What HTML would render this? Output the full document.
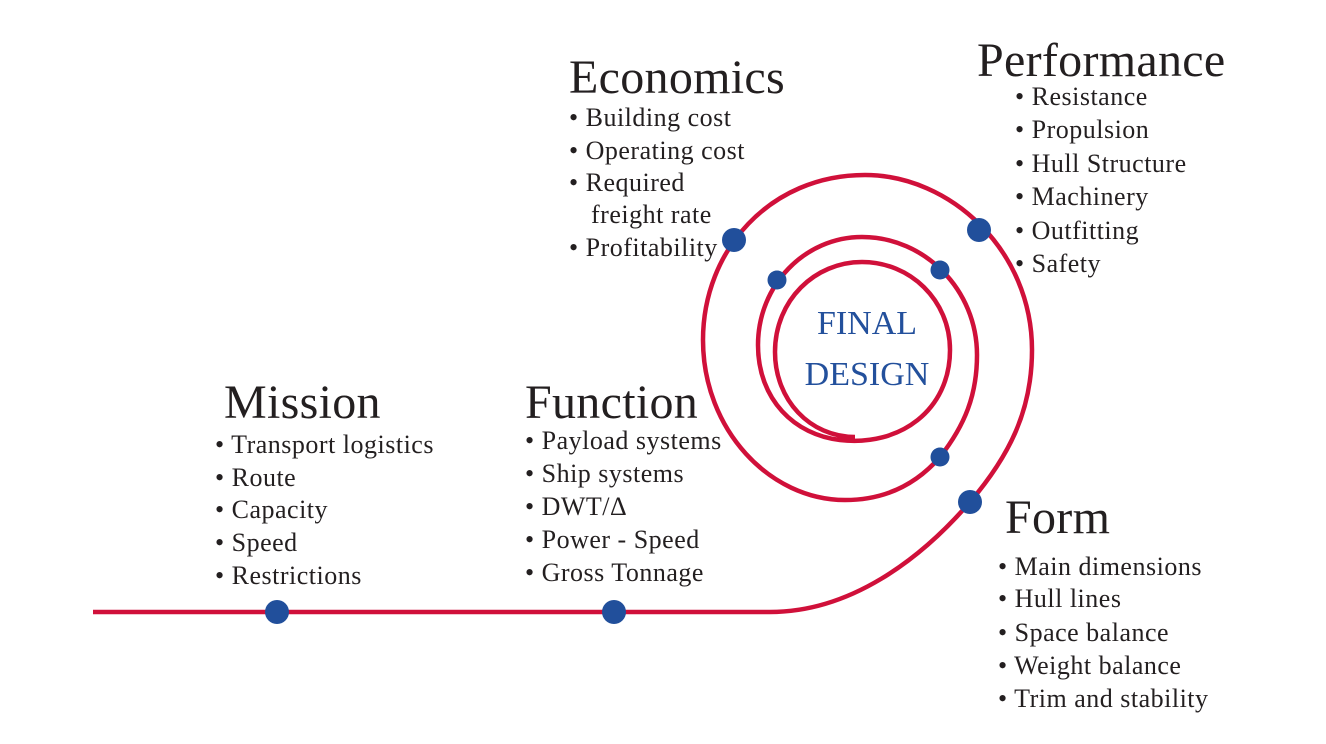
<!DOCTYPE html>
<html><head><meta charset="utf-8"><style>
html,body{margin:0;padding:0;background:#fff;}
svg{display:block;}
text{font-family:"Liberation Serif",serif;fill:#231f20;}
.t{font-size:48px;letter-spacing:0.3px;}
.b{font-size:26px;letter-spacing:0.5px;}
.f{font-size:34px;fill:#23509c;}
</style></head><body>
<svg width="1326" height="744" viewBox="0 0 1326 744" xmlns="http://www.w3.org/2000/svg">
<path d="M93 612 L770 612 C850 612,920 560,970 502 C1010 455,1032 410,1032 350 C1032 250,950 175,865 175 C770 175,703 250,703 340 C703 430,770 500,845 500 C890 500,920 480,940 457 C965 425,977 395,977 355 C977 290,925 237,862 237 C805 237,758 285,758 345 C758 400,795 435,840 440 C900 447,950 410,950 350 C950 300,910 262,862 262 C815 262,775 300,775 352 C775 400,810 437,855 437" fill="none" stroke="#d0103a" stroke-width="4.5"/>
<g fill="#214f9b">
<circle cx="277" cy="612" r="12"/><circle cx="614" cy="612" r="12"/>
<circle cx="734" cy="240" r="12"/><circle cx="979" cy="230" r="12"/>
<circle cx="970" cy="502" r="12"/><circle cx="777" cy="280" r="9.5"/>
<circle cx="940" cy="270" r="9.5"/><circle cx="940" cy="457" r="9.5"/>
</g>
<text class="f" x="867" y="334" text-anchor="middle">FINAL</text>
<text class="f" x="867" y="385" text-anchor="middle">DESIGN</text>

<text class="t" x="569" y="93">Economics</text>
<text class="b" x="569" y="126">• Building cost</text>
<text class="b" x="569" y="159">• Operating cost</text>
<text class="b" x="569" y="191">• Required</text>
<text class="b" x="591" y="223">freight rate</text>
<text class="b" x="569" y="256">• Profitability</text>

<text class="t" x="977" y="76">Performance</text>
<text class="b" x="1015" y="105">• Resistance</text>
<text class="b" x="1015" y="138">• Propulsion</text>
<text class="b" x="1015" y="172">• Hull Structure</text>
<text class="b" x="1015" y="205">• Machinery</text>
<text class="b" x="1015" y="239">• Outfitting</text>
<text class="b" x="1015" y="272">• Safety</text>

<text class="t" x="224" y="418">Mission</text>
<text class="b" x="215" y="453">• Transport logistics</text>
<text class="b" x="215" y="486">• Route</text>
<text class="b" x="215" y="518">• Capacity</text>
<text class="b" x="215" y="551">• Speed</text>
<text class="b" x="215" y="584">• Restrictions</text>

<text class="t" x="525" y="418">Function</text>
<text class="b" x="525" y="449">• Payload systems</text>
<text class="b" x="525" y="482">• Ship systems</text>
<text class="b" x="525" y="515">• DWT/Δ</text>
<text class="b" x="525" y="548">• Power - Speed</text>
<text class="b" x="525" y="581">• Gross Tonnage</text>

<text class="t" x="1005" y="533">Form</text>
<text class="b" x="998" y="575">• Main dimensions</text>
<text class="b" x="998" y="607">• Hull lines</text>
<text class="b" x="998" y="641">• Space balance</text>
<text class="b" x="998" y="674">• Weight balance</text>
<text class="b" x="998" y="707">• Trim and stability</text>
</svg>
</body></html>
